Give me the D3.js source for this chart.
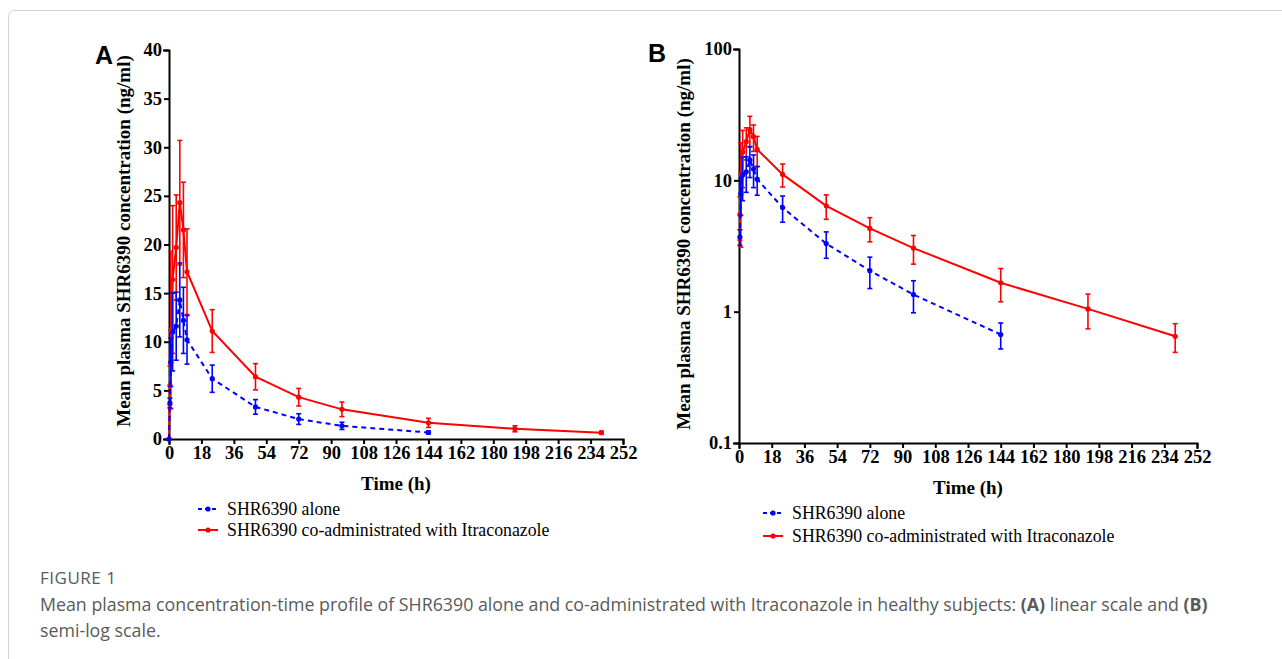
<!DOCTYPE html>
<html>
<head>
<meta charset="utf-8">
<script src="https://cdn.jsdelivr.net/npm/d3@7"></script>
<style>
  body { margin: 0; background: #fff; }
  svg text { font-family: "Liberation Serif", "Times New Roman", serif; }
  .tick text { font-weight: bold; font-size: 18.5px; fill: #000; }
  .domain, .tick line { stroke: #000; stroke-width: 2px; }
</style>
</head>
<body>
<script>
// values (ng/ml, mean and SD)
const timeH = [0, 0.5, 1, 2, 4, 6, 8, 10, 24, 48, 72, 96, 144, 192, 240];
const aloneMean = [0, 3.7, 7.9, 11.0, 11.6, 14.3, 12.2, 10.2, 6.2, 3.3, 2.05, 1.35, 0.67];
const aloneSD   = [0, 0.5, 2.5, 4.0, 3.5, 3.8, 3.4, 2.5, 1.4, 0.75, 0.55, 0.37, 0.15];
const coMean = [0, 5.5, 11.2, 16.4, 19.7, 24.3, 21.5, 17.2, 11.1, 6.4, 4.3, 3.05, 1.66, 1.05, 0.65];
const coSD   = [0, 2.0, 8.1, 7.6, 5.4, 6.4, 4.9, 4.4, 2.2, 1.35, 0.9, 0.75, 0.47, 0.31, 0.16];
const xTicks = d3.range(0, 253, 18);
const linTicks = d3.range(0, 41, 5);
const logTicks = [0.1, 1, 10, 100];
const legendLabels = ["SHR6390 alone", "SHR6390 co-administrated with Itraconazole"];

const W = 1282, H = 659;
const svg = d3.select("body").append("svg").attr("width", W).attr("height", H);

// figure frame
svg.append("rect").attr("x", 8.5).attr("y", 10.5).attr("width", 1300).attr("height", 700)
  .attr("rx", 6).attr("fill", "none").attr("stroke", "#d4d4d4");

const series = [
  {mean: coMean, sd: coSD, color: "#ff0000", dash: null},
  {mean: aloneMean, sd: aloneSD, color: "#0000ff", dash: "5,4"}
];

function drawPanel(p) {
  const g = svg.append("g");
  const x = d3.scaleLinear().domain([0, 252]).range([p.x0, p.x1]);
  const y = p.log
    ? d3.scaleLog().domain([0.1, 100]).range([p.yb, p.yt])
    : d3.scaleLinear().domain([0, 40]).range([p.yb, p.yt]);

  g.append("g").attr("transform", `translate(0,${p.yb})`)
    .call(d3.axisBottom(x).tickValues(xTicks).tickSize(5).tickPadding(2).tickFormat(d3.format("d")));
  g.append("g").attr("transform", `translate(${p.x0},0)`)
    .call(d3.axisLeft(y).tickValues(p.log ? logTicks : linTicks).tickSize(5).tickPadding(2)
      .tickFormat(d => String(d)));
  g.selectAll(".domain").attr("stroke-linecap", "square");

  const ok = v => !p.log || v > 0;

  series.forEach(s => {
    const pts = s.mean.map((m, i) => ({t: timeH[i], m: m, sd: s.sd[i]})).filter(d => ok(d.m));
    g.append("path").datum(pts)
      .attr("fill", "none").attr("stroke", s.color).attr("stroke-width", 2)
      .attr("stroke-dasharray", s.dash)
      .attr("d", d3.line().x(d => x(d.t)).y(d => y(d.m)));

    const eb = g.append("g").attr("stroke", s.color).attr("stroke-width", 1.6);
    pts.filter(d => d.sd > 0).forEach(d => {
      const lo = Math.max(d.m - d.sd, p.log ? 0.1 : 0);
      const hi = d.m + d.sd;
      const cx = x(d.t);
      eb.append("line").attr("x1", cx).attr("x2", cx).attr("y1", y(lo)).attr("y2", y(hi));
      [lo, hi].forEach(v => {
        if (v <= (p.log ? 0.1 : 0)) return;
        eb.append("line").attr("x1", cx - 2.5).attr("x2", cx + 2.5).attr("y1", y(v)).attr("y2", y(v));
      });
    });

    g.append("g").selectAll("circle").data(pts).join("circle")
      .attr("cx", d => x(d.t)).attr("cy", d => y(d.m)).attr("r", 2.6).attr("fill", s.color);
  });

  // axis titles
  g.append("text").attr("transform", `translate(${p.ytx},${p.yty}) rotate(-90)`)
    .attr("text-anchor", "middle").attr("dominant-baseline", "central")
    .style("font-weight", "bold").style("font-size", "19px")
    .text("Mean plasma SHR6390 concentration (ng/ml)");
  g.append("text").attr("x", (p.x0 + p.x1) / 2).attr("y", p.xty)
    .attr("text-anchor", "middle").attr("dominant-baseline", "central")
    .style("font-weight", "bold").style("font-size", "19px").text("Time (h)");

  // panel letter
  g.append("text").attr("x", p.lx).attr("y", p.ly).attr("dominant-baseline", "central")
    .style("font-family", "Liberation Sans, Arial, sans-serif").style("font-weight", "bold")
    .style("font-size", "25px").text(p.letter);

  // legend
  const lg = g.append("g");
  [series[1], series[0]].forEach((s, i) => {
    const yy = p.legY + i * p.legGap;
    lg.append("line").attr("x1", p.legX).attr("x2", p.legX + 20).attr("y1", yy).attr("y2", yy)
      .attr("stroke", s.color).attr("stroke-width", 2).attr("stroke-dasharray", s.dash ? "4,3" : null);
    lg.append("circle").attr("cx", p.legX + 10).attr("cy", yy).attr("r", 2.6).attr("fill", s.color);
    lg.append("text").attr("x", p.legX + 29).attr("y", yy).attr("dominant-baseline", "central")
      .style("font-size", "17.8px").text(legendLabels[i]);
  });
}

drawPanel({letter: "A", log: false, x0: 169, x1: 623, yt: 50, yb: 439,
  ytx: 123, yty: 241, xty: 483, lx: 95, ly: 55, legX: 198, legY: 509, legGap: 21});
drawPanel({letter: "B", log: true, x0: 739, x1: 1197, yt: 49, yb: 443,
  ytx: 683, yty: 244, xty: 487, lx: 648, ly: 53, legX: 763, legY: 513, legGap: 23});

// caption
const cap = svg.append("g").style("fill", "#5a5a5a");
cap.append("text").attr("x", 40).attr("y", 584).style("font-family", "Open Sans, sans-serif")
  .style("font-size", "17px").style("letter-spacing", "0.5px").text("FIGURE 1");
const l1 = cap.append("text").attr("x", 40).attr("y", 611)
  .style("font-family", "Open Sans, sans-serif").style("font-size", "17.8px");
l1.append("tspan").text("Mean plasma concentration-time profile of SHR6390 alone and co-administrated with Itraconazole in healthy subjects: ");
l1.append("tspan").style("font-weight", "bold").text("(A)");
l1.append("tspan").text(" linear scale and ");
l1.append("tspan").style("font-weight", "bold").text("(B)");
cap.append("text").attr("x", 40).attr("y", 637)
  .style("font-family", "Open Sans, sans-serif").style("font-size", "17.8px").text("semi-log scale.");
</script>
</body>
</html>
